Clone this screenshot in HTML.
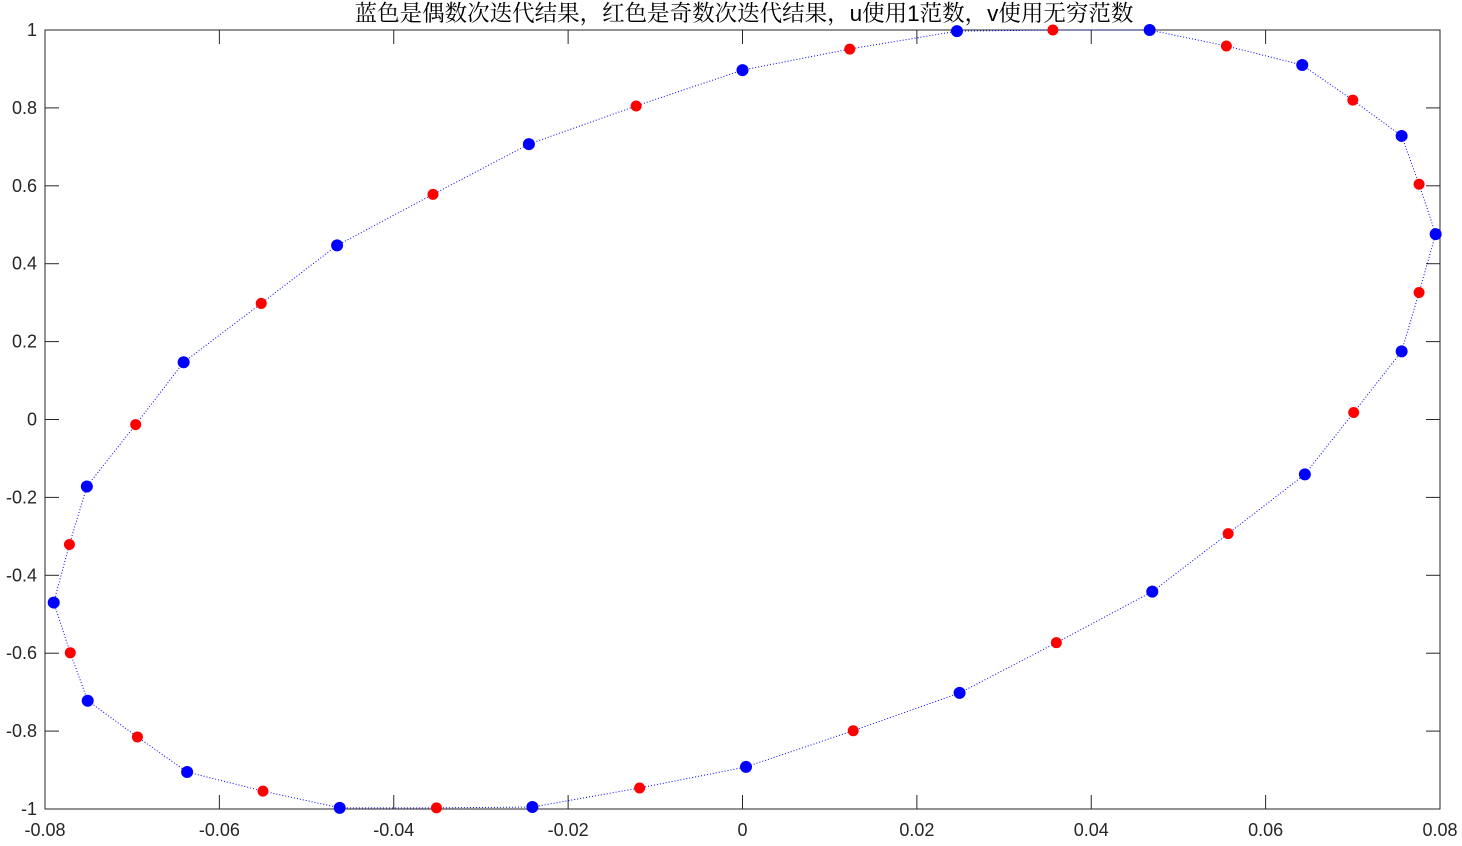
<!DOCTYPE html>
<html><head><meta charset="utf-8"><style>
html,body{margin:0;padding:0;background:#fff;}
svg text{font-family:"Liberation Sans","Noto Sans CJK SC",sans-serif;}
</style></head><body>
<svg id="chart" width="1462" height="841" xmlns="http://www.w3.org/2000/svg"></svg>
<script>
const xTicks=[-0.08,-0.06,-0.04,-0.02,0,0.02,0.04,0.06,0.08];
const xTickLabels=["-0.08","-0.06","-0.04","-0.02","0","0.02","0.04","0.06","0.08"];
const yTicks=[-1,-0.8,-0.6,-0.4,-0.2,0,0.2,0.4,0.6,0.8,1];
const yTickLabels=["-1","-0.8","-0.6","-0.4","-0.2","0","0.2","0.4","0.6","0.8","1"];
const ptX=[-0.0790,-0.0772,-0.0752,-0.0696,-0.0641,-0.0552,-0.0465,-0.0355,-0.0245,-0.0122,0.0000,0.0123,0.0246,0.0356,0.0467,0.0555,0.0642,0.0700,0.0756,0.0776,0.0795,0.0776,0.0756,0.0701,0.0645,0.0557,0.0470,0.0360,0.0249,0.0127,0.0004,-0.0118,-0.0241,-0.0351,-0.0462,-0.0550,-0.0637,-0.0694,-0.0751,-0.0771];
const ptY=[-0.470,-0.321,-0.172,-0.013,0.147,0.298,0.447,0.578,0.707,0.805,0.897,0.951,0.997,1.0,1.0,0.959,0.910,0.820,0.728,0.604,0.476,0.326,0.175,0.018,-0.141,-0.293,-0.442,-0.573,-0.702,-0.799,-0.892,-0.946,-0.995,-0.997,-0.997,-0.954,-0.905,-0.815,-0.722,-0.599];
const ptParity=[0,1,0,1,0,1,0,1,0,1,0,1,0,1,0,1,0,1,0,1,0,1,0,1,0,1,0,1,0,1,0,1,0,1,0,1,0,1,0,1];
const L=45,R=1440,T=30,B=809;
const sx=v=>L+(v-(-0.08))/0.16*(R-L);
const sy=v=>B-(v-(-1))/2*(B-T);
const svg=document.getElementById('chart');
const NS='http://www.w3.org/2000/svg';
function mk(tag,attrs){const e=document.createElementNS(NS,tag);for(const k in attrs)e.setAttribute(k,attrs[k]);svg.appendChild(e);return e;}
const box=mk('rect',{x:L,y:T,width:R-L,height:B-T,fill:'#fff',stroke:'#262626','stroke-width':1});


xTicks.forEach((v,i)=>{const x=sx(v);
 const t1=mk('line',{x1:x,y1:B,x2:x,y2:B-14,stroke:'#262626'});
 
 
 const t2=mk('line',{x1:x,y1:T,x2:x,y2:T+14,stroke:'#262626'});
 
 
 const tx=mk('text',{x:x,y:B+27,'text-anchor':'middle','font-size':18,fill:'#262626'});tx.textContent=xTickLabels[i];
 
 
});
yTicks.forEach((v,i)=>{const y=sy(v);
 const t1=mk('line',{x1:L,y1:y,x2:L+14,y2:y,stroke:'#262626'});
 
 
 const t2=mk('line',{x1:R,y1:y,x2:R-14,y2:y,stroke:'#262626'});
 
 
 const tx=mk('text',{x:L-8,y:y+6,'text-anchor':'end','font-size':18,fill:'#262626'});tx.textContent=yTickLabels[i];
 
 
});
let d='';ptX.forEach((v,i)=>{d+=(i?'L':'M')+sx(v)+','+sy(ptY[i]);});d+='Z';
const path=mk('path',{d:d,fill:'none',stroke:'#0000ff','stroke-width':1,'stroke-dasharray':'1,2'});


ptX.forEach((v,i)=>{const blue=ptParity[i]===0;
 const c=mk('circle',{cx:sx(v),cy:sy(ptY[i]),r:blue?6:5.5,fill:blue?'#0000ff':'#ff0000'});
 
 
});
const title=mk('text',{x:744,y:21,'text-anchor':'middle','font-size':22.5,fill:'#000'});
title.style.fontFamily='"Liberation Sans","Noto Serif CJK SC",serif';
title.textContent='蓝色是偶数次迭代结果，红色是奇数次迭代结果，u使用1范数，v使用无穷范数';


</script>
</body></html>
